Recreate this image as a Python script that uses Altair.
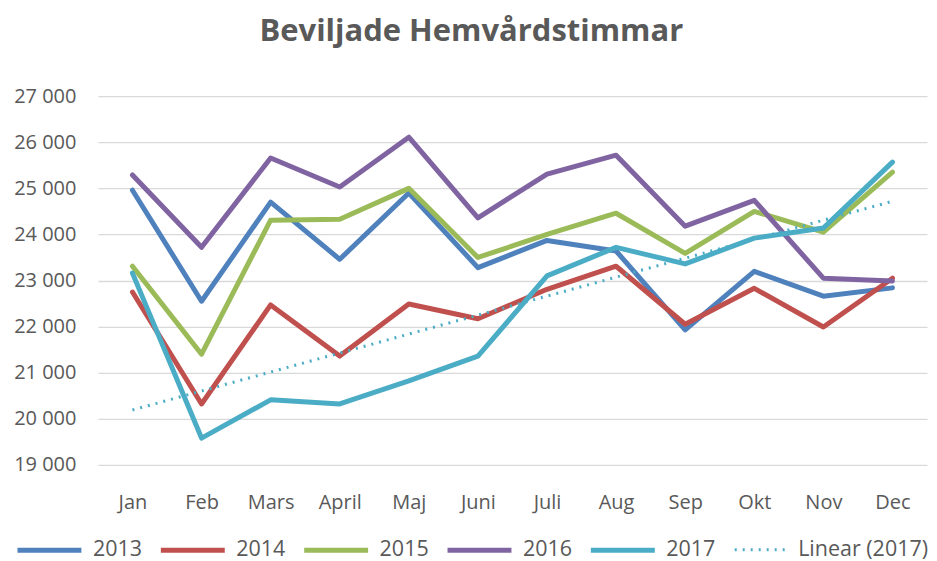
import altair as alt
import pandas as pd

# ---- data ----
months = ["Jan", "Feb", "Mars", "April", "Maj", "Juni", "Juli", "Aug", "Sep", "Okt", "Nov", "Dec"]
years = ["2013", "2014", "2015", "2016", "2017"]
v2013 = [24960, 22550, 24700, 23460, 24900, 23280, 23870, 23640, 21930, 23200, 22660, 22840]
v2014 = [22750, 20320, 22470, 21360, 22490, 22170, 22810, 23310, 22050, 22830, 21990, 23050]
v2015 = [23310, 21400, 24310, 24330, 25000, 23500, 24000, 24460, 23590, 24500, 24050, 25350]
v2016 = [25290, 23720, 25660, 25030, 26110, 24360, 25310, 25720, 24180, 24740, 23050, 22990]
v2017 = [23160, 19580, 20410, 20320, 20820, 21360, 23100, 23720, 23360, 23920, 24140, 25570]
colors = ["#4F81BD", "#C0504D", "#9BBB59", "#8064A2", "#4BACC6"]
trend_label = "Linear (2017)"
trend_color = "#4BACC6"
y_ticks = [19000, 20000, 21000, 22000, 23000, 24000, 25000, 26000, 27000]

series = dict(zip(years, [v2013, v2014, v2015, v2016, v2017]))
rows = []
for yr, vals in series.items():
    for i, (m, v) in enumerate(zip(months, vals)):
        rows.append({"month": m, "idx": i + 1, "year": yr, "value": v})
df = pd.DataFrame(rows)
months_df = pd.DataFrame({"idx": list(range(1, len(months) + 1)), "month": months})

FONT = "Open Sans"
GREY = "#595959"

x_enc = alt.X(
    "month:N", sort=months,
    scale=alt.Scale(type="point", padding=0.5),
    axis=alt.Axis(title=None, labelAngle=0, labelFontSize=20, labelColor=GREY, labelFont=FONT,
                  labelPadding=28, ticks=False, tickSize=0, domain=False, grid=False),
)
y_enc = alt.Y(
    "value:Q",
    scale=alt.Scale(domain=[19000, 27000], nice=False, zero=False),
    axis=alt.Axis(title=None, values=y_ticks, labelFontSize=20, labelColor=GREY, labelFont=FONT,
                  labelPadding=22, ticks=False, tickSize=0, domain=False,
                  gridColor="#D9D9D9", gridWidth=1.3,
                  labelExpr="replace(format(datum.value, ','), ',', ' ')"),
)

lines = alt.Chart(df).mark_line(strokeWidth=5, strokeCap="round", strokeJoin="round").encode(
    x=x_enc,
    y=y_enc,
    color=alt.Color(
        "year:N",
        scale=alt.Scale(domain=years, range=colors),
        legend=alt.Legend(
            orient="none", legendX=-83, legendY=420, direction="horizontal", columns=5,
            title=None, symbolType="stroke", symbolSize=4096, symbolStrokeWidth=5,
            labelFontSize=21.5, labelColor=GREY, labelFont=FONT, labelOffset=9, columnPadding=7.5,
        ),
    ),
)

trend = (
    alt.Chart(df)
    .transform_filter(alt.datum.year == "2017")
    .transform_regression("idx", "value", method="linear")
    .transform_lookup(lookup="idx", from_=alt.LookupData(months_df, "idx", ["month"]))
    .transform_calculate(series=f"'{trend_label}'")
    .mark_line(color=trend_color, strokeWidth=3)
    .encode(
        x=x_enc,
        y=y_enc,
        strokeDash=alt.StrokeDash(
            "series:N",
            scale=alt.Scale(domain=[trend_label], range=[[2, 6]]),
            legend=alt.Legend(
                orient="none", legendX=636, legendY=426, title=None,
                symbolType="stroke", symbolSize=2809, symbolStrokeWidth=3,
                symbolStrokeColor=trend_color,
                labelFontSize=21.5, labelColor=GREY, labelFont=FONT, labelOffset=9,
            ),
        ),
    )
)

chart = (
    alt.layer(lines, trend)
    .properties(
        width=830, height=369,
        title=alt.Title("Beviljade Hemvårdstimmar", fontSize=31, font=FONT, fontWeight="bold",
                        color=GREY, anchor="middle", frame="bounds", offset=38),
        padding={"left": 5, "top": 8, "right": 0, "bottom": 0},
    )
    .configure_view(stroke=None)
)

chart.save("out.html", embed_options={"renderer": "svg", "actions": False})
